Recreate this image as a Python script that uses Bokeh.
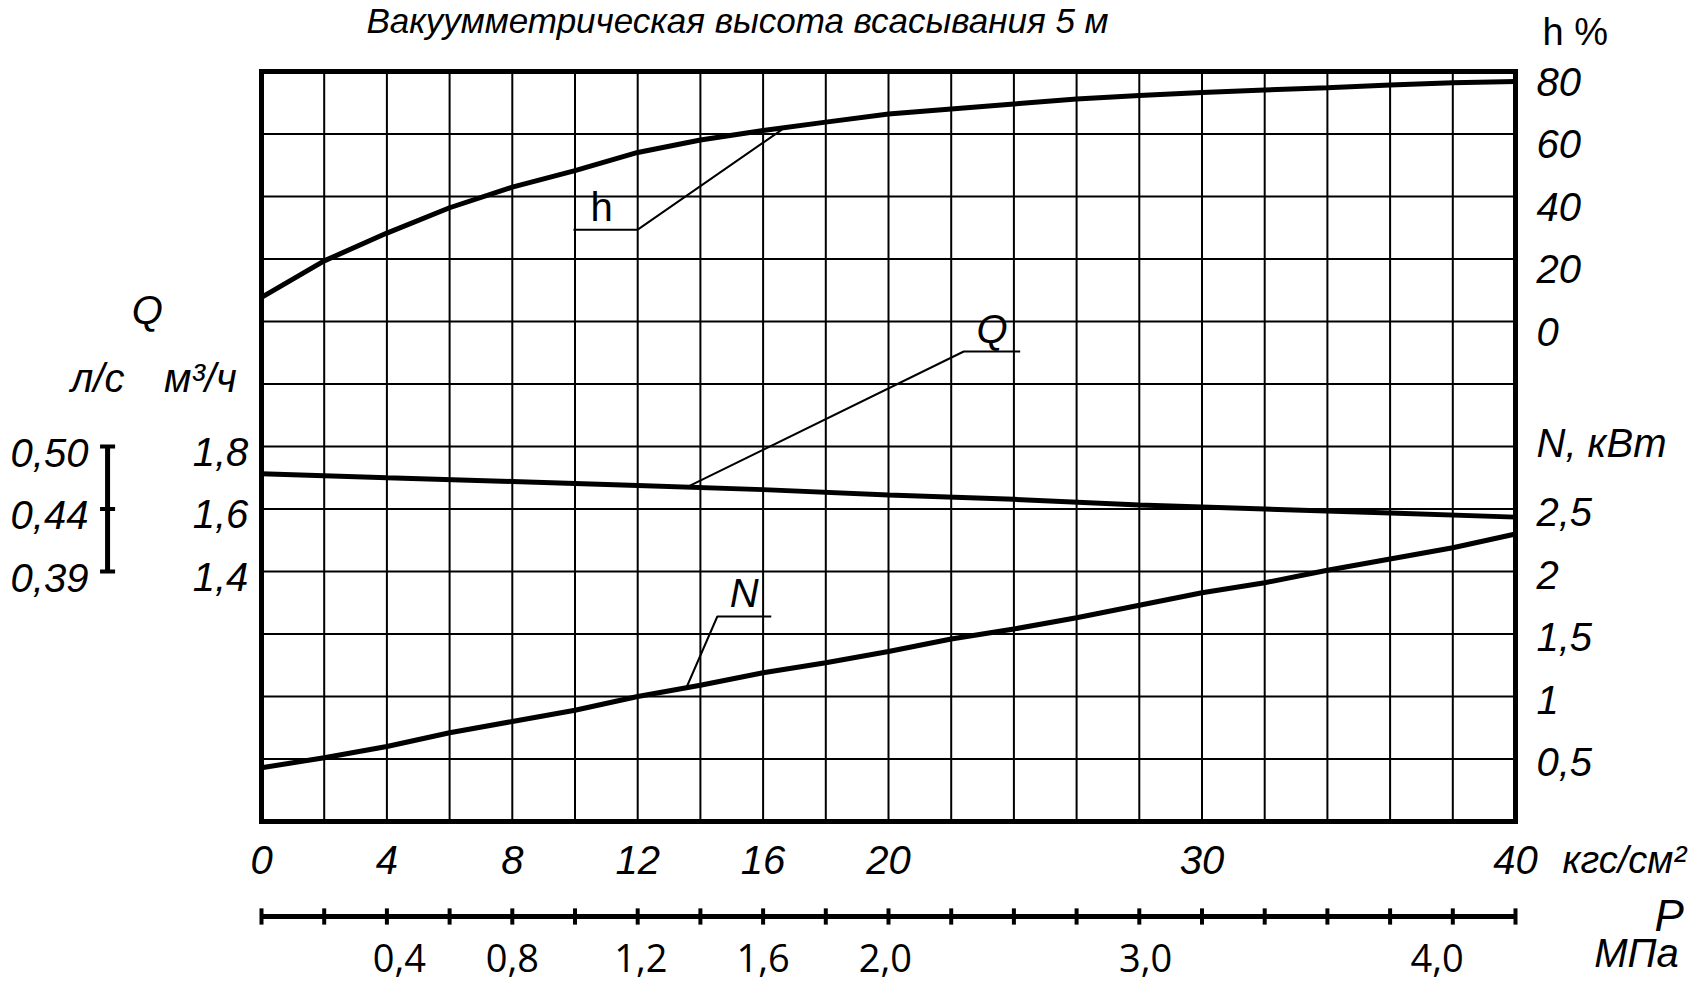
from bokeh.plotting import figure
from bokeh.models import Range1d
from bokeh.embed import file_html
from bokeh.resources import INLINE
from bokeh.core.properties import value

# ---------------- data ----------------
title_text = "Вакуумметрическая  высота всасывания 5 м"

p_kgf = [0, 2, 4, 6, 8, 10, 12, 14, 16, 18, 20, 22, 24, 26, 28, 30, 32, 34, 36, 38, 40]
h_pct = [7.7, 19.4, 28.3, 36.4, 43.0, 48.3, 54.1, 58.1, 61.1, 63.8, 66.4,
         68.0, 69.6, 71.2, 72.3, 73.3, 74.1, 74.8, 75.7, 76.4, 76.8]
n_kw = [0.43, 0.51, 0.60, 0.71, 0.80, 0.89, 1.00, 1.09, 1.19, 1.27, 1.36,
        1.46, 1.54, 1.63, 1.73, 1.83, 1.91, 2.01, 2.10, 2.19, 2.30]
q_kgf = [0, 4, 8, 12, 16, 20, 24, 28, 32, 36, 40]
q_m3h = [1.713, 1.700, 1.688, 1.675, 1.662, 1.645, 1.631, 1.613, 1.600, 1.587, 1.574]

kgf_ticks = [0, 4, 8, 12, 16, 20, 30, 40]
h_ticks = [0, 20, 40, 60, 80]
n_ticks = [0.5, 1, 1.5, 2, 2.5]
q_ticks = [1.4, 1.6, 1.8]
m3h_per_ls = 3.6
mpa_labels = ["0,4", "0,8", "1,2", "1,6", "2,0", "3,0", "4,0"]
mpa_label_kgf = [4.4, 8.0, 12.1, 16.0, 19.9, 28.2, 37.5]
grid_kgf = list(range(0, 41, 2))   # grid columns and MPa-scale ticks
grid_rows = list(range(0, 13))     # 12 rows of graph paper

# callouts: shelf and leader to curve (x: kgf/cm2, y: grid rows)
h_callout_x = [9.95, 12.0, 16.6]
h_callout_y = [9.47, 9.47, 11.07]
q_callout_x = [24.2, 22.4, 13.57]
q_callout_y = [7.52, 7.52, 5.35]
n_callout_x = [16.26, 14.54, 13.57]
n_callout_y = [3.28, 3.28, 2.16]

# ---------------- scales ----------------
W, H = 1693, 986
PX_KGF, PX_ROW = 31.35, 62.5     # drawing scale
LEFT_PX, BOTTOM_PX = 261, 165    # grid origin inside canvas
x0, x1 = -LEFT_PX / PX_KGF, (W - LEFT_PX) / PX_KGF
r0, r1 = -BOTTOM_PX / PX_ROW, (H - BOTTOM_PX) / PX_ROW


def h_of_row(r):
    return 20 * (r - 8)


def n_of_row(r):
    return r / 2


def q_of_row(r):
    return 0.6 + 0.2 * r


p = figure(width=W, height=H, x_range=Range1d(x0, x1), y_range=Range1d(r0, r1),
           x_axis_location=None, y_axis_location=None, min_border=0,
           output_backend="svg", toolbar_location=None)
p.extra_y_ranges = {
    "h": Range1d(h_of_row(r0), h_of_row(r1)),
    "N": Range1d(n_of_row(r0), n_of_row(r1)),
    "Q": Range1d(q_of_row(r0), q_of_row(r1)),
    "Qls": Range1d(q_of_row(r0) / m3h_per_ls, q_of_row(r1) / m3h_per_ls),
}
p.outline_line_color = None
p.xgrid.visible = False
p.ygrid.visible = False
p.background_fill_color = "white"
p.border_fill_color = "white"

X_LO, X_HI = grid_kgf[0], grid_kgf[-1]
R_LO, R_HI = grid_rows[0], grid_rows[-1]

# graph paper
p.segment(x0=grid_kgf, y0=[R_LO] * len(grid_kgf), x1=grid_kgf, y1=[R_HI] * len(grid_kgf),
          line_color="black", line_width=2)
p.segment(x0=[X_LO] * len(grid_rows), y0=grid_rows, x1=[X_HI] * len(grid_rows), y1=grid_rows,
          line_color="black", line_width=2)
p.quad(left=[X_LO], right=[X_HI], bottom=[R_LO], top=[R_HI], fill_color=None,
       line_color="black", line_width=5, line_join="miter")

# ---------------- curves ----------------
p.line(p_kgf, h_pct, y_range_name="h", line_color="black", line_width=5)
p.line(q_kgf, q_m3h, y_range_name="Q", line_color="black", line_width=5)
p.line(p_kgf, n_kw, y_range_name="N", line_color="black", line_width=5)
for xs, ys in ((h_callout_x, h_callout_y), (q_callout_x, q_callout_y), (n_callout_x, n_callout_y)):
    p.line(xs, ys, line_color="black", line_width=2)

GOST = "Liberation Sans"
TS = "40px"


def txt(xs, ys, texts, font=GOST, size=TS, style="italic", align="center",
        baseline="middle", y_range_name="default"):
    p.text(x=xs, y=ys, text=texts, text_font=value(font), text_font_size=value(size),
           text_font_style=style, text_align=align, text_baseline=baseline,
           text_color="black", y_range_name=y_range_name)


# bottom kgf/cm2 scale labels
txt(kgf_ticks, [-0.62] * len(kgf_ticks), [str(t) for t in kgf_ticks])
txt([41.5], [-0.62], ["кгс/см²"], size="38px", align="left")

# right scale: h % and N kW
txt([40.67] * len(h_ticks), [h / 20 + 8 - 0.16 for h in h_ticks], [str(h) for h in h_ticks],
    align="left")
txt([40.67] * len(n_ticks), [n_ * 2 - 0.05 for n_ in n_ticks],
    [f"{n_:g}".replace(".", ",") for n_ in n_ticks], align="left")
txt([40.67], [6.06], ["N, кВт"], align="left")
txt([40.86], [12.63], ["h %"], style="normal", size="38px", align="left", baseline="alphabetic")

# left scale: Q m3/h and l/s
txt([-0.42] * len(q_ticks), [q - 0.016 for q in q_ticks],
    [f"{q:.1f}".replace(".", ",") for q in q_ticks], align="right", y_range_name="Q")
txt([-5.52] * len(q_ticks), [(q - 0.02) / m3h_per_ls for q in q_ticks],
    [f"{q / m3h_per_ls:.2f}".replace(".", ",") for q in q_ticks], align="right",
    y_range_name="Qls")
txt([-3.64], [8.19], ["Q"])
txt([-5.23], [7.10], ["л/с"])
txt([-1.95], [7.10], ["м³/ч"])

# l/s bar with ticks
BAR_X, TICK_HALF = -4.91, 0.24
p.segment(x0=[BAR_X], y0=[q_ticks[0]], x1=[BAR_X], y1=[q_ticks[-1]], y_range_name="Q",
          line_color="black", line_width=5)
p.segment(x0=[BAR_X - TICK_HALF] * len(q_ticks), y0=q_ticks,
          x1=[BAR_X + TICK_HALF] * len(q_ticks), y1=q_ticks, y_range_name="Q",
          line_color="black", line_width=4)

# MPa scale
MPA_ROW, MPA_TICK = -1.52, 0.13
p.segment(x0=[X_LO], y0=[MPA_ROW], x1=[X_HI], y1=[MPA_ROW], line_color="black", line_width=5)
p.segment(x0=grid_kgf, y0=[MPA_ROW - MPA_TICK] * len(grid_kgf), x1=grid_kgf,
          y1=[MPA_ROW + MPA_TICK] * len(grid_kgf), line_color="black", line_width=4)
txt(mpa_label_kgf, [-2.18] * len(mpa_labels), mpa_labels, font="Open Sans", size="38px",
    style="normal")
txt([44.9], [-1.5], ["P"], size="44px")
txt([43.86], [-2.11], ["МПа"])

# in-chart curve labels
txt([10.85], [9.84], ["h"], style="normal")
txt([23.3], [7.88], ["Q"])
txt([15.4], [3.65], ["N"])

# title
txt([15.34], [r1 - 0.01], [title_text], size="35px", baseline="top")

open("out.html", "w").write(file_html(p, INLINE))
